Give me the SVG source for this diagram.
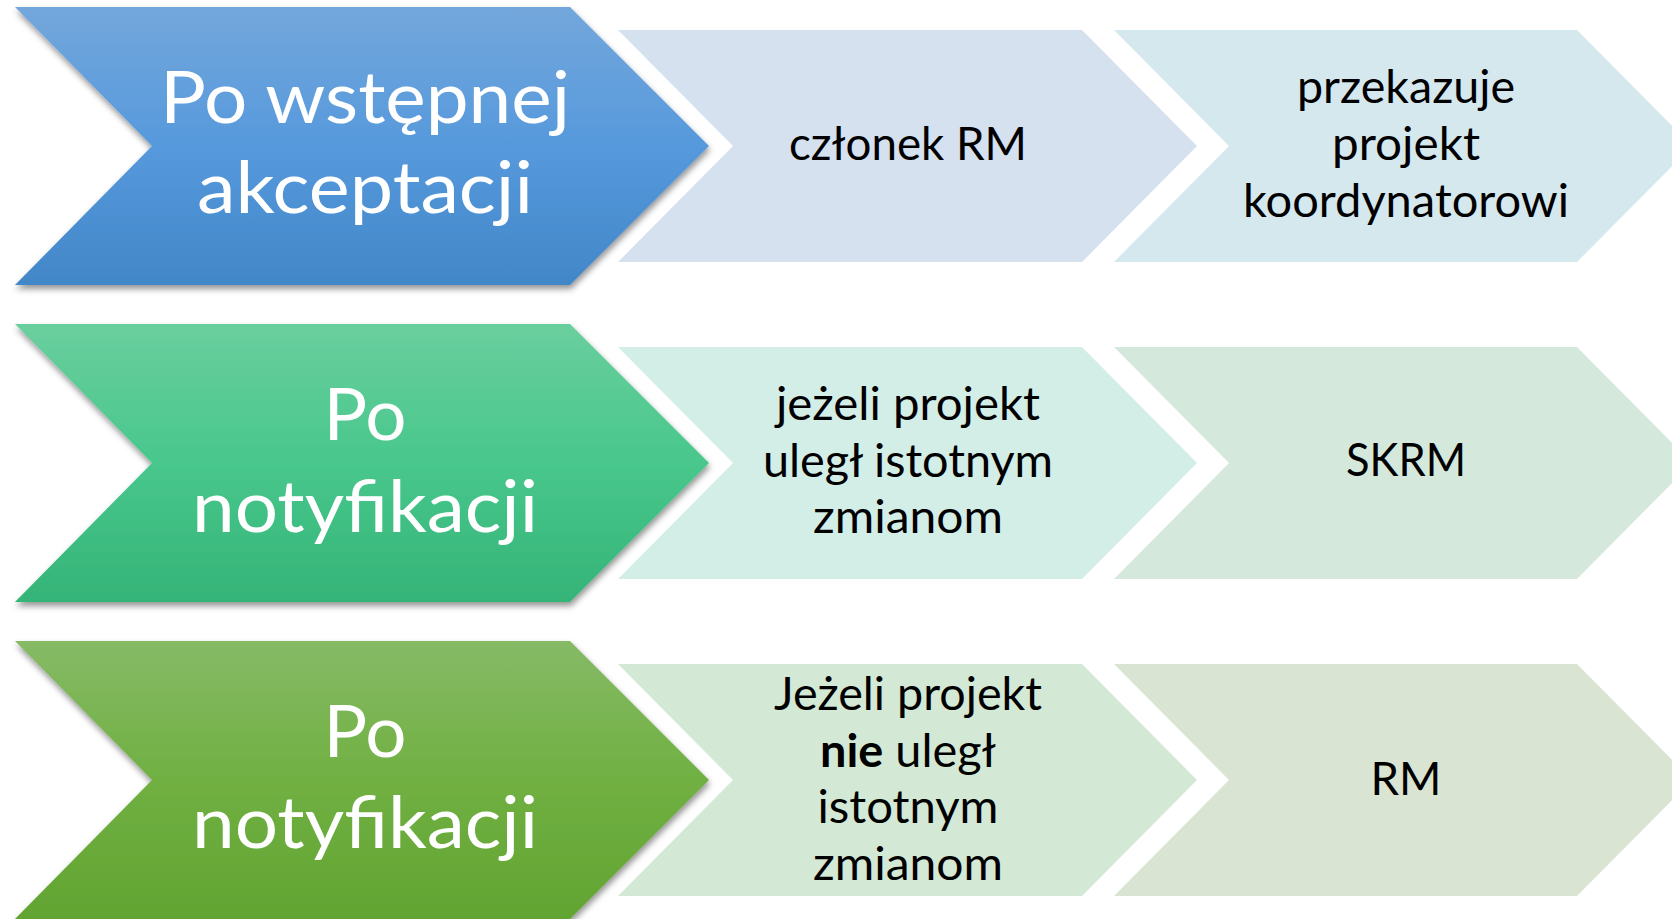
<svg xmlns="http://www.w3.org/2000/svg" width="1672" height="919" viewBox="0 0 1672 919">
  <defs>
    <linearGradient id="gBlue" x1="0" y1="0" x2="0" y2="1">
      <stop offset="0" stop-color="#73a7dc"/>
      <stop offset="0.5" stop-color="#5699dc"/>
      <stop offset="1" stop-color="#4287c8"/>
    </linearGradient>
    <linearGradient id="gTeal" x1="0" y1="0" x2="0" y2="1">
      <stop offset="0" stop-color="#6acf9e"/>
      <stop offset="0.5" stop-color="#48c78c"/>
      <stop offset="1" stop-color="#35b478"/>
    </linearGradient>
    <linearGradient id="gGreen" x1="0" y1="0" x2="0" y2="1">
      <stop offset="0" stop-color="#86ba66"/>
      <stop offset="0.5" stop-color="#70b042"/>
      <stop offset="1" stop-color="#62a432"/>
    </linearGradient>
    <filter id="shadow" x="-5%" y="-5%" width="112%" height="115%">
      <feDropShadow dx="1" dy="4" stdDeviation="3" flood-color="#000" flood-opacity="0.42"/>
    </filter>
  </defs>
  <style>
    .big { font-family: Lato, "Open Sans", "Liberation Sans", sans-serif; font-size: 72px; fill: #ffffff; text-anchor: middle; }
    .small { font-family: Lato, "Open Sans", "Liberation Sans", sans-serif; font-size: 46.5px; fill: #000000; text-anchor: middle; }
    .b { font-weight: 700; }
  </style>
  <rect width="1672" height="919" fill="#ffffff"/>

  <g id="connectors"/>

  <!-- Row 1 -->
  <g id="row1-main">
    <polygon points="15,7 570,7 709,146 570,285 15,285 152,146" fill="url(#gBlue)" filter="url(#shadow)"/>
    <text class="big" x="365" y="123" textLength="410" lengthAdjust="spacingAndGlyphs">Po wstępnej</text>
    <text class="big" x="365" y="213" textLength="336" lengthAdjust="spacingAndGlyphs">akceptacji</text>
  </g>
  <g id="row1-who">
    <polygon points="618,30 1082,30 1197,146 1082,262 618,262 733,146" fill="#d5e1ef"/>
    <text class="small" x="908" y="160" textLength="238" lengthAdjust="spacingAndGlyphs">członek RM</text>
  </g>
  <g id="row1-what">
    <polygon points="1114,30 1577,30 1692,146 1577,262 1114,262 1229,146" fill="#d5e8ee"/>
    <text class="small" x="1406" y="103" textLength="218" lengthAdjust="spacingAndGlyphs">przekazuje</text>
    <text class="small" x="1406" y="160" textLength="148" lengthAdjust="spacingAndGlyphs">projekt</text>
    <text class="small" x="1406" y="217" textLength="326" lengthAdjust="spacingAndGlyphs">koordynatorowi</text>
  </g>

  <!-- Row 2 -->
  <g id="row2-main">
    <polygon points="15,324 570,324 709,463 570,602 15,602 152,463" fill="url(#gTeal)" filter="url(#shadow)"/>
    <text class="big" x="365" y="440" textLength="83" lengthAdjust="spacingAndGlyphs">Po</text>
    <text class="big" x="365" y="532" textLength="346" lengthAdjust="spacingAndGlyphs">notyfikacji</text>
  </g>
  <g id="row2-who">
    <polygon points="618,347 1082,347 1197,463 1082,579 618,579 733,463" fill="#d3ede7"/>
    <text class="small" x="908" y="420" textLength="264" lengthAdjust="spacingAndGlyphs">jeżeli projekt</text>
    <text class="small" x="908" y="477" textLength="290" lengthAdjust="spacingAndGlyphs">uległ istotnym</text>
    <text class="small" x="908" y="533" textLength="190" lengthAdjust="spacingAndGlyphs">zmianom</text>
  </g>
  <g id="row2-what">
    <polygon points="1114,347 1577,347 1692,463 1577,579 1114,579 1229,463" fill="#d4e9dc"/>
    <text class="small" x="1406" y="476" textLength="120" lengthAdjust="spacingAndGlyphs">SKRM</text>
  </g>

  <!-- Row 3 -->
  <g id="row3-main">
    <polygon points="15,641 570,641 709,780 570,919 15,919 152,780" fill="url(#gGreen)" filter="url(#shadow)"/>
    <text class="big" x="365" y="757" textLength="83" lengthAdjust="spacingAndGlyphs">Po</text>
    <text class="big" x="365" y="848" textLength="346" lengthAdjust="spacingAndGlyphs">notyfikacji</text>
  </g>
  <g id="row3-who">
    <polygon points="618,664 1082,664 1197,780 1082,896 618,896 733,780" fill="#d3e8d5"/>
    <text class="small" x="908" y="710" textLength="268" lengthAdjust="spacingAndGlyphs">Jeżeli projekt</text>
    <text class="small" x="908" y="767" textLength="176" lengthAdjust="spacingAndGlyphs"><tspan class="b">nie</tspan> uległ</text>
    <text class="small" x="908" y="823" textLength="181" lengthAdjust="spacingAndGlyphs">istotnym</text>
    <text class="small" x="908" y="880" textLength="190" lengthAdjust="spacingAndGlyphs">zmianom</text>
  </g>
  <g id="row3-what">
    <polygon points="1114,664 1577,664 1692,780 1577,896 1114,896 1229,780" fill="#d9e5d2"/>
    <text class="small" x="1406" y="795" textLength="71" lengthAdjust="spacingAndGlyphs">RM</text>
  </g>
</svg>
